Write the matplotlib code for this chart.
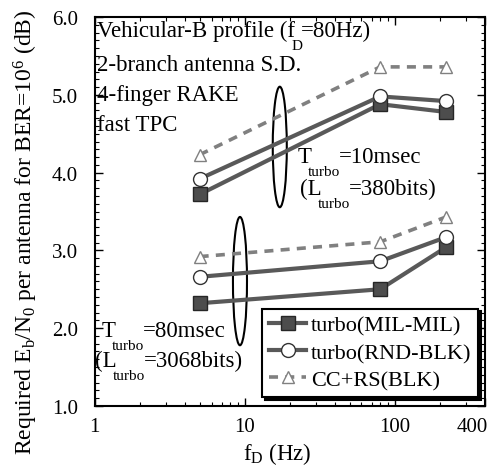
import matplotlib
matplotlib.use("Agg")
import matplotlib.pyplot as plt
from matplotlib.patches import Ellipse
from matplotlib.transforms import offset_copy, ScaledTranslation
from matplotlib.ticker import MultipleLocator, FixedLocator, NullFormatter

plt.rcParams['font.family'] = ['Liberation Serif', 'DejaVu Serif']
plt.rcParams['mathtext.fontset'] = 'custom'
plt.rcParams['mathtext.rm'] = 'Liberation Serif'
plt.rcParams['mathtext.it'] = 'Liberation Serif:italic'

# Doppler frequencies (Hz)
fd = [5, 80, 220]

# required Eb/N0 (dB), Tturbo = 10 msec
mil_10 = [3.72, 4.88, 4.78]
rnd_10 = [3.92, 4.98, 4.92]
ccrs_10 = [4.23, 5.36, 5.36]

# required Eb/N0 (dB), Tturbo = 80 msec
mil_80 = [2.32, 2.50, 3.04]
rnd_80 = [2.66, 2.86, 3.17]
ccrs_80 = [2.92, 3.11, 3.43]

series_labels = ['turbo(MIL-MIL)', 'turbo(RND-BLK)', 'CC+RS(BLK)']
xtick_vals = [1, 10, 100, 400]
xtick_text = ['1', '10', '100', '400']

fig = plt.figure(figsize=(4.99, 4.77), dpi=100)
ax = fig.add_axes([0.190, 0.147, 0.782, 0.815])
renderer = fig.canvas.get_renderer()


def subtext(x, y, parts, size=16.5, subsize=11, drop=13, back=4):
    """write text pieces left to right, (string, True) pieces go low and small"""
    dx = 0
    for s, sub in parts:
        if sub:
            dx -= back
        tr = offset_copy(ax.transAxes, fig, x=dx, y=-drop if sub else 0, units='dots')
        t = ax.text(x, y, s, transform=tr, fontsize=subsize if sub else size,
                    va='baseline', ha='left')
        dx += t.get_window_extent(renderer).width
        if sub:
            dx -= 1


sq = dict(color='0.35', lw=3.0, marker='s', ms=10, mfc='0.3', mec='0.15')
ci = dict(color='0.35', lw=3.0, marker='o', ms=10, mfc='white', mec='0.2')
tr = dict(color='0.5', lw=2.6, ls=(0, (2.5, 2)), marker='^', ms=9, mfc='white', mec='0.5')

ax.plot(fd, mil_10, **sq, label=series_labels[0])
ax.plot(fd, rnd_10, **ci, label=series_labels[1])
ax.plot(fd, ccrs_10, **tr, label=series_labels[2])
ax.plot(fd, mil_80, **sq)
ax.plot(fd, rnd_80, **ci)
ax.plot(fd, ccrs_80, **tr)

ax.set_xscale('log')
ax.set_xlim(1, 400)
ax.set_ylim(1.0, 6.0)
ax.xaxis.set_major_locator(FixedLocator(xtick_vals))
ax.set_xticklabels(xtick_text)
ax.xaxis.set_minor_locator(FixedLocator([2, 3, 4, 5, 6, 7, 8, 9, 20, 30, 40, 50, 60, 70, 80, 90, 200, 300]))
ax.xaxis.set_minor_formatter(NullFormatter())
ax.yaxis.set_major_locator(MultipleLocator(1.0))
ax.yaxis.set_minor_locator(MultipleLocator(0.1))
ax.set_yticklabels(['%.1f' % v for v in ax.get_yticks()])
ax.tick_params(which='both', direction='in', top=True, right=True, labelsize=15)
ax.tick_params(axis='y', pad=12)
ax.tick_params(axis='x', pad=8)
ax.tick_params(which='major', length=6, width=1)
ax.tick_params(which='minor', length=3, width=0.8)
for s in ax.spines.values():
    s.set_linewidth(1.5)

# last x label sits inside the right edge
lab400 = ax.get_xticklabels()[-1]
lab400.set_transform(lab400.get_transform() + ScaledTranslation(-13 / 100, 0, fig.dpi_scale_trans))

ax.set_xlabel(r'f$_{\rm D}$ (Hz)', fontsize=16.5)
ax.xaxis.set_label_coords(0.467, -0.088)
ax.set_ylabel(r'Required E$_{\rm b}$/N$_{\rm 0}$ per antenna for BER=10$^{6}$ (dB)', fontsize=17)
ax.yaxis.set_label_coords(-0.14, 0.45)

# simulation conditions
subtext(0.006, 0.951, [('Vehicular-B profile (f', False), ('D', True), ('=80Hz)', False)])
subtext(0.006, 0.864, [('2-branch antenna S.D.', False)])
subtext(0.006, 0.787, [('4-finger RAKE', False)])
subtext(0.006, 0.710, [('fast TPC', False)])
subtext(0.521, 0.627, [('T', False), ('turbo', True), ('=10msec', False)])
subtext(0.526, 0.545, [('(L', False), ('turbo', True), ('=380bits)', False)])
subtext(0.018, 0.180, [('T', False), ('turbo', True), ('=80msec', False)])
subtext(0.0, 0.103, [('(L', False), ('turbo', True), ('=3068bits)', False)])

# loops grouping each set of curves
ax.add_patch(Ellipse((0.474, 0.666), 0.036, 0.31, transform=ax.transAxes,
                     fill=False, ec='black', lw=1.5, clip_on=False))
ax.add_patch(Ellipse((0.372, 0.321), 0.036, 0.33, transform=ax.transAxes,
                     fill=False, ec='black', lw=1.5, clip_on=False))

leg = ax.legend(loc='lower right', bbox_to_anchor=(0.982, 0.023), borderaxespad=0,
                fontsize=16, fancybox=False, shadow={'color': 'black', 'alpha': 1.0},
                framealpha=1, edgecolor='black', handlelength=1.7, handletextpad=0.2,
                labelspacing=0.3, borderpad=0.3)
leg.get_frame().set_linewidth(1.5)

fig.savefig('out.png', dpi=100)
